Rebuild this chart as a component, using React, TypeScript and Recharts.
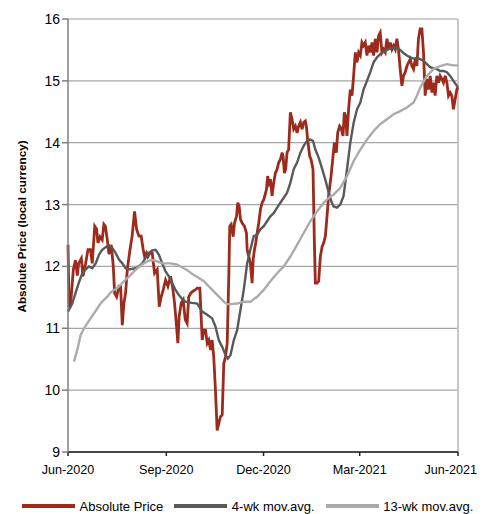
import React from 'react';
import {
  LineChart,
  Line,
  XAxis,
  YAxis,
  CartesianGrid,
  ReferenceLine,
  Legend,
} from 'recharts';

// days since 1 Jun 2020, value in local currency
const absolutePrice: [number, number][] = [
  [0, 12.35], [1, 11.35], [2.5, 11.4], [5, 11.95], [7, 12.1], [8.7, 11.85], [10, 12.05],
  [12.5, 12.13], [14, 11.84], [16.5, 12.05], [18.7, 12.27], [21, 12.27], [22.7, 12.05],
  [25, 12.65], [26.8, 12.6], [28, 12.38], [30, 12.48], [32, 12.43], [33.6, 12.68], [35, 12.65],
  [36.8, 12.43], [38.3, 12.2], [40.5, 12.35], [42.4, 12.0], [43.6, 11.57], [45.5, 11.51],
  [47.7, 11.68], [49.2, 11.68], [50.8, 11.05], [52.3, 11.4], [53.9, 11.57], [55.5, 11.95],
  [58, 12.27], [60, 12.49], [62.3, 12.89], [64.2, 12.6], [66.4, 12.49], [68.5, 12.49],
  [70.4, 12.27], [71.7, 12.16], [73.5, 12.22], [74.8, 12.16], [76.6, 12.22], [78.8, 12.22],
  [81, 11.89], [83.5, 11.95], [85.4, 11.35], [87.2, 11.51], [89.1, 11.62], [91.3, 11.78],
  [93.5, 11.68], [96, 11.84], [97.8, 11.68], [99.7, 11.41], [101.6, 11.03], [102.8, 10.76],
  [104, 11.19], [106, 11.41], [107.8, 11.46], [109.7, 11.14], [111.5, 11.08], [113, 11.51],
  [115, 11.57], [117, 11.6], [119, 11.62], [121, 11.65], [123.4, 11.65], [125.6, 10.81],
  [127.1, 10.97], [128.7, 10.97], [130.3, 10.76], [131.8, 10.81], [133.4, 10.65], [134.9, 10.81],
  [136.4, 10.54], [138, 10.0], [139.6, 9.35], [141.1, 9.46], [142.7, 9.57], [144.3, 9.6],
  [145.8, 10.43], [147.4, 10.54], [149, 10.76], [150.5, 11.84], [151.4, 12.65], [152.7, 12.68],
  [154.6, 12.48], [155.8, 12.7], [157.7, 12.81], [158.9, 13.03], [160.2, 12.97], [161.4, 12.76],
  [163, 12.7], [165.1, 12.65], [167, 12.54], [167.7, 12.27], [169.2, 12.16], [170.7, 12.05],
  [172.3, 11.73], [173.3, 12.11], [174.5, 12.27], [175.7, 12.38], [177, 12.54], [178.5, 12.7],
  [180.1, 12.92], [181.7, 13.03], [183.2, 13.08], [185.7, 13.24], [186.9, 13.46], [188.2, 13.35],
  [189.4, 13.41], [191, 13.14], [192.5, 13.35], [194.1, 13.51], [195.7, 13.57], [197.2, 13.68],
  [198.8, 13.73], [200.4, 13.84], [201.3, 13.78], [202.5, 13.51], [203.7, 13.57], [205, 13.84],
  [206.5, 13.89], [208.1, 14.49], [209.7, 14.38], [211.2, 14.22], [212.8, 14.27], [214.4, 14.16],
  [215.9, 14.27], [217.5, 14.33], [219.1, 14.22], [220.6, 14.33], [222.1, 14.35], [223.1, 14.27],
  [224.3, 14.05], [226.2, 13.78], [227.5, 13.73], [229.3, 13.57], [230.6, 12.38], [231.5, 11.73],
  [233.1, 11.73], [234.6, 11.76], [236.2, 12.16], [237.8, 12.32], [239.3, 12.38], [240.9, 12.49],
  [242.4, 12.81], [243.9, 13.14], [246.2, 13.46], [248, 13.78], [249.3, 14.0], [251.1, 13.84],
  [252.4, 14.16], [254.2, 14.27], [255.5, 14.24], [257.4, 14.11], [258.6, 14.49], [259.8, 14.43],
  [261.1, 14.11], [262.6, 14.54], [264.2, 14.86], [265.8, 14.76], [267.3, 15.08], [268.9, 15.46],
  [270.5, 15.3], [272, 15.46], [273.6, 15.41], [275.1, 15.62], [276.6, 15.57], [278.2, 15.62],
  [279.8, 15.41], [281.3, 15.57], [282.9, 15.46], [284.5, 15.62], [286, 15.41], [287.6, 15.68],
  [289.2, 15.46], [290.7, 15.73], [292.2, 15.78], [293.8, 15.46], [295.3, 15.51], [296.9, 15.46],
  [298.5, 15.68], [300, 15.51], [301.6, 15.62], [303.2, 15.51], [304.7, 15.57], [306.3, 15.51],
  [307.8, 15.68], [309.3, 15.51], [310.9, 15.19], [312.5, 14.92], [314, 15.08], [315.6, 15.14],
  [317.2, 15.24], [318.8, 15.3], [320.3, 15.35], [321.9, 15.24], [323.4, 15.19], [325, 15.35],
  [326.5, 15.24], [328, 15.68], [329.6, 15.84], [331.2, 15.84], [332.7, 15.46], [334.3, 14.76],
  [335.9, 15.03], [337.4, 14.86], [339, 15.08], [340.6, 14.81], [342.1, 14.97], [343.6, 14.76],
  [345.2, 15.08], [346.8, 14.97], [348.3, 15.08], [349.9, 15.03], [351.4, 14.97], [353, 15.08],
  [354.6, 14.97], [356.1, 14.76], [357.7, 14.81], [359.2, 14.76], [360.7, 14.54], [362.3, 14.7],
  [363.9, 14.86], [365, 14.9],
];

const ma4wk: [number, number][] = [
  [0, 11.27], [4, 11.4], [7, 11.57], [10, 11.73], [13.4, 11.89], [16.5, 11.95], [19.6, 12.0],
  [22.7, 11.97], [25.9, 12.05], [29, 12.19], [32, 12.27], [35.2, 12.31], [38.3, 12.34],
  [41.4, 12.3], [44.5, 12.22], [47.7, 12.11], [50.8, 12.05], [53.9, 11.97], [57, 11.95],
  [60, 11.96], [63.2, 11.97], [66.4, 12.0], [69.5, 12.05], [72.6, 12.14], [75.7, 12.22],
  [78.8, 12.26], [81.9, 12.27], [85, 12.19], [88.2, 12.05], [91.3, 11.92], [94.4, 11.84],
  [97.5, 11.73], [100.6, 11.62], [103.7, 11.54], [106.9, 11.47], [110, 11.43], [113, 11.42],
  [116.2, 11.41], [121, 11.4], [125.6, 11.27], [130.3, 11.22], [134.9, 11.16], [138, 11.03],
  [141.1, 10.81], [144.3, 10.7], [147.4, 10.57], [149.6, 10.51], [152.1, 10.57], [155.2, 10.81],
  [158.3, 10.97], [161.4, 11.3], [164.5, 11.62], [167.7, 12.05], [170.7, 12.27], [173.8, 12.49],
  [177, 12.51], [180.1, 12.6], [183.2, 12.65], [186.3, 12.73], [189.4, 12.81], [192.5, 12.86],
  [195.7, 12.95], [198.8, 13.03], [201.9, 13.11], [205, 13.19], [208.1, 13.35], [211.2, 13.57],
  [214.4, 13.68], [217.5, 13.84], [220.6, 13.95], [223.7, 14.03], [226.8, 14.05], [229.3, 14.03],
  [231.5, 13.89], [234.6, 13.76], [237.8, 13.58], [240.9, 13.4], [243.9, 13.2], [246.5, 13.05],
  [248.6, 12.97], [251.7, 12.95], [254.8, 13.0], [257.9, 13.14], [261.1, 13.57], [264.2, 14.0],
  [267.3, 14.32], [270.5, 14.54], [273.6, 14.65], [276.6, 14.86], [279.8, 15.0], [282.9, 15.14],
  [286, 15.3], [289.2, 15.38], [292.2, 15.43], [295.3, 15.47], [298.5, 15.5], [301.6, 15.52],
  [304.7, 15.54], [307.8, 15.53], [310.9, 15.5], [314, 15.45], [317.2, 15.41], [320.3, 15.38],
  [323.4, 15.36], [326.5, 15.37], [329.6, 15.35], [332.7, 15.32], [335.9, 15.27], [339, 15.22],
  [342.1, 15.2], [345.2, 15.19], [348.3, 15.16], [351.4, 15.16], [354.6, 15.14], [357.7, 15.08],
  [360.7, 15.0], [363.9, 14.92], [365, 14.9],
];

const ma13wk: [number, number][] = [
  [5.6, 10.46], [8.7, 10.65], [11.8, 10.89], [15, 11.0], [18, 11.08], [21.2, 11.16],
  [24.3, 11.24], [27.4, 11.32], [30.5, 11.4], [33.6, 11.46], [36.8, 11.51], [39.9, 11.58],
  [43, 11.62], [46.1, 11.65], [49.2, 11.7], [52.3, 11.76], [55.5, 11.81], [58.6, 11.86],
  [61.7, 11.92], [64.8, 11.97], [67.9, 12.01], [71, 12.05], [74.1, 12.08], [77.3, 12.1],
  [80.4, 12.1], [83.5, 12.08], [86.6, 12.06], [89.7, 12.05], [92.8, 12.05], [96, 12.05],
  [99.1, 12.04], [102.2, 12.03], [105.3, 12.0], [108.4, 11.97], [111.5, 11.94], [114.6, 11.9],
  [117.8, 11.86], [121, 11.83], [127.1, 11.76], [133.4, 11.65], [139.6, 11.54], [145.8, 11.43],
  [149, 11.39], [152.1, 11.39], [158.3, 11.4], [164.5, 11.43], [170.7, 11.43], [177, 11.51],
  [183.2, 11.62], [189.4, 11.76], [195.7, 11.89], [201.9, 12.0], [208.1, 12.16], [214.4, 12.35],
  [220.6, 12.54], [226.8, 12.73], [233.1, 12.89], [239.3, 13.03], [245.5, 13.13], [248.6, 13.16],
  [254.8, 13.27], [261.1, 13.46], [267.3, 13.7], [273.6, 13.89], [279.8, 14.05], [286, 14.19],
  [292.2, 14.3], [298.5, 14.38], [304.7, 14.46], [310.9, 14.51], [317.2, 14.57], [323.4, 14.65],
  [326.5, 14.76], [329.6, 14.89], [335.9, 15.08], [342.1, 15.19], [348.3, 15.24], [354.6, 15.27],
  [360.7, 15.25], [365, 15.25],
];

const xTicks = [0, 92, 183, 273, 365];
const xTickLabels = ['Jun-2020', 'Sep-2020', 'Dec-2020', 'Mar-2021', 'Jun-2021'];
const yTicks = [9, 10, 11, 12, 13, 14, 15, 16];

const seriesNames = ['Absolute Price', '4-wk mov.avg.', '13-wk mov.avg.'];
const seriesColors = ['#9c2b1c', '#595959', '#ababab'];

const toPoints = (rows: [number, number][]) => rows.map(([d, v]) => ({ d, v }));

const FONT = '"Liberation Sans", Arial, sans-serif';

function DateTick(props: any) {
  const { x, y, payload } = props;
  const idx = xTicks.indexOf(payload.value);
  const last = idx === xTicks.length - 1;
  // last label is pulled in so it stays inside the page
  return (
    <text
      x={last ? x + 19 : x}
      y={y + 18}
      textAnchor={last ? 'end' : 'middle'}
      fontFamily={FONT}
      fontSize={12.6}
      fill="#000"
    >
      {xTickLabels[idx] ?? ''}
    </text>
  );
}

function LegendBox() {
  return (
    <div
      style={{
        display: 'flex',
        alignItems: 'center',
        height: 16,
        paddingLeft: 14,
        whiteSpace: 'nowrap',
        fontFamily: FONT,
        fontSize: 13,
        color: '#000',
      }}
    >
      {seriesNames.map((name, i) => (
        <div key={name} style={{ display: 'flex', alignItems: 'center', marginRight: 11 }}>
          <span
            style={{
              display: 'inline-block',
              width: 53,
              height: 3.5,
              background: seriesColors[i],
              marginRight: 4.5,
            }}
          />
          <span>{name}</span>
        </div>
      ))}
    </div>
  );
}

export default function App() {
  return (
    <div style={{ width: 478, height: 506 }}>
      <style>{'html, body { overflow: hidden; }'}</style>
      <LineChart
        width={478}
        height={506}
        margin={{ top: 11, right: 28, left: 0, bottom: 0 }}
      >
        <CartesianGrid vertical={false} stroke="#a6a6a6" strokeWidth={1.3} />
        <XAxis
          type="number"
          dataKey="d"
          domain={[0, 365]}
          ticks={xTicks}
          interval={0}
          stroke="#222"
          strokeWidth={1.5}
          tickSize={4}
          tickMargin={0}
          height={46}
          tick={<DateTick />}
        />
        <YAxis
          type="number"
          domain={[9, 16]}
          ticks={yTicks}
          width={60}
          stroke="#7f7f7f"
          strokeWidth={1.5}
          tickSize={6}
          tickMargin={2}
          tick={{ fill: '#000', fontSize: 14, fontFamily: FONT }}
          label={{
            content: () => {
              const cx = 13;
              const cy = 218.5;
              return (
                <text
                  x={cx}
                  y={cy}
                  transform={`rotate(-90 ${cx} ${cy})`}
                  textAnchor="middle"
                  dominantBaseline="central"
                  fontFamily={FONT}
                  fontSize={11.7}
                  fontWeight="bold"
                  fill="#000"
                >
                  Absolute Price (local currency)
                </text>
              );
            },
          }}
        />
        <ReferenceLine y={16} stroke="#cccccc" strokeWidth={2} />
        <ReferenceLine x={365} stroke="#c8c8c8" strokeWidth={2} />
        <Legend
          verticalAlign="bottom"
          wrapperStyle={{ left: 0, width: 478 }}
          content={() => <LegendBox />}
        />
        <Line
          data={toPoints(absolutePrice)}
          dataKey="v"
          name={seriesNames[0]}
          stroke={seriesColors[0]}
          strokeWidth={2.8}
          dot={false}
          type="linear"
          isAnimationActive={false}
        />
        <Line
          data={toPoints(ma4wk)}
          dataKey="v"
          name={seriesNames[1]}
          stroke={seriesColors[1]}
          strokeWidth={2.4}
          dot={false}
          type="linear"
          isAnimationActive={false}
        />
        <Line
          data={toPoints(ma13wk)}
          dataKey="v"
          name={seriesNames[2]}
          stroke={seriesColors[2]}
          strokeWidth={2.4}
          dot={false}
          type="linear"
          isAnimationActive={false}
        />
      </LineChart>
    </div>
  );
}
